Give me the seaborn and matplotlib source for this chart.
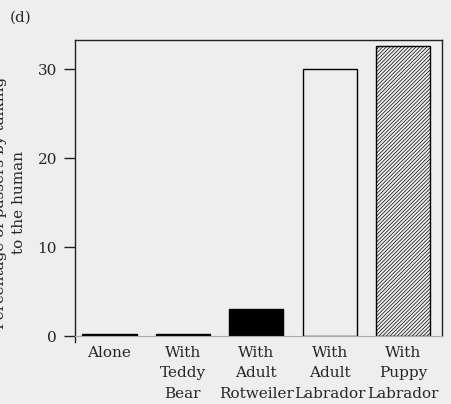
import matplotlib
matplotlib.use("Agg")
import matplotlib.pyplot as plt
import seaborn as sns
import pandas as pd

categories = ["Alone", "With\nTeddy\nBear", "With\nAdult\nRotweiler",
              "With\nAdult\nLabrador", "With\nPuppy\nLabrador"]
percent_talking = [0.2, 0.2, 3.0, 30.0, 32.6]
y_ticks = [0, 10, 20, 30]

bg = "#eeeeee"
sns.set_theme(style="white")
plt.rcParams["font.family"] = ["DejaVu Serif"]
plt.rcParams["hatch.linewidth"] = 0.5
plt.rcParams["hatch.color"] = "#555555"
fs = 11

df = pd.DataFrame({"condition": categories, "percent": percent_talking})

fig = plt.figure(figsize=(4.52, 4.04), dpi=100, facecolor=bg)
ax = fig.add_axes([75 / 452, (404 - 336) / 404, 367 / 452, 296 / 404])
ax.set_facecolor(bg)

sns.barplot(data=df, x="condition", y="percent", ax=ax, width=0.74,
            color="white", edgecolor="black", linewidth=1.0, errorbar=None)

faces = ["black", "black", "black", bg, bg]
hatches = [None, None, None, None, "/" * 9]
for patch, fc, h in zip(ax.patches, faces, hatches):
    patch.set_facecolor(fc)
    if h:
        patch.set_hatch(h)

ax.set_xlim(-0.47, 4.53)
ax.set_ylim(0, 33.3)
ax.set_yticks(y_ticks)
ax.set_xlabel("")
ax.set_ylabel("")

for side in ["left", "top", "right"]:
    ax.spines[side].set_visible(True)
    ax.spines[side].set_color("#222222")
    ax.spines[side].set_linewidth(1.0)
ax.spines["bottom"].set_visible(True)
ax.spines["bottom"].set_color("#aaaaaa")
ax.spines["bottom"].set_linewidth(0.8)
ax.spines["left"].set_bounds(-0.7, 33.3)

ax.tick_params(axis="y", direction="out", length=8, width=1.0, color="#222222",
               labelsize=fs, pad=5, left=True)
ax.tick_params(axis="x", length=0, labelsize=fs, pad=7)
for lbl in ax.get_xticklabels():
    lbl.set_linespacing(1.6)

fig.text(0.0 / 452, 1 - 203 / 404, "Percentage of passers-by talking",
         rotation=90, ha="center", va="center", fontsize=fs)
fig.text(19 / 452, 1 - 203 / 404, "to the human",
         rotation=90, ha="center", va="center", fontsize=fs)
fig.text(10 / 452, 1 - 18 / 404, "(d)", ha="left", va="center", fontsize=fs)

fig.savefig("out.png", dpi=100, facecolor=bg)
